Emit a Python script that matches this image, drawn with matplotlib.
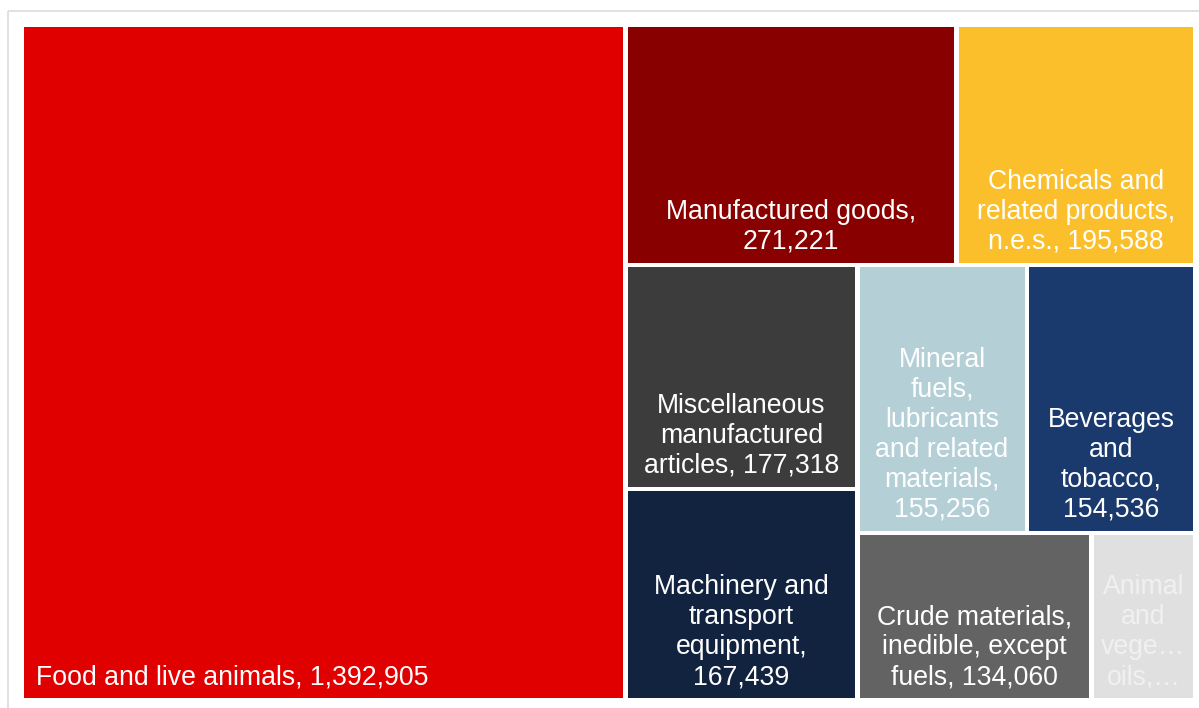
import matplotlib
matplotlib.use("Agg")
import matplotlib.pyplot as plt
from matplotlib.patches import Rectangle

categories = [
    "Food and live animals",
    "Manufactured goods",
    "Chemicals and related products, n.e.s.",
    "Miscellaneous manufactured articles",
    "Machinery and transport equipment",
    "Mineral fuels, lubricants and related materials",
    "Beverages and tobacco",
    "Crude materials, inedible, except fuels",
    "Animal and vegetable oils, fats and waxes",
]
values = [1392905, 271221, 195588, 177318, 167439, 155256, 154536, 134060, 59500]
display_names = [
    "Food and live animals, {v}",
    "Manufactured goods,\n{v}",
    "Chemicals and\nrelated products,\nn.e.s., {v}",
    "Miscellaneous\nmanufactured\narticles, {v}",
    "Machinery and\ntransport\nequipment,\n{v}",
    "Mineral\nfuels,\nlubricants\nand related\nmaterials,\n{v}",
    "Beverages\nand\ntobacco,\n{v}",
    "Crude materials,\ninedible, except\nfuels, {v}",
    "Animal\nand\nvege\u2026\noils,\u2026",
]
colors = ["#e00000", "#880000", "#fbbf2c", "#3c3c3c", "#12233f",
          "#b5cfd6", "#1a3a6e", "#636363", "#e0e0e0"]
text_alpha = [1, 1, 1, 1, 1, 1, 1, 1, 0.55]

W, H = 1199, 708
X0, Y0, X1, Y1 = 22.0, 25.0, 1195.5, 700.5
GAP = 4.5


def worst(row, w):
    s = sum(row)
    return max(max(w * w * r / (s * s), (s * s) / (w * w * r)) for r in row)


def layout_row(row, x, y, dx, dy):
    s = sum(row)
    rects = []
    if dx >= dy:
        cw = s / dy
        cy = y
        for r in row:
            h = r / cw
            rects.append((x, cy, cw, h))
            cy += h
        return rects, (x + cw, y, dx - cw, dy)
    else:
        rh = s / dx
        cx = x
        for r in row:
            w = r / rh
            rects.append((cx, y, w, rh))
            cx += w
        return rects, (x, y + rh, dx, dy - rh)


def squarify(sizes, x, y, dx, dy):
    total = sum(sizes)
    areas = [v * dx * dy / total for v in sizes]
    rects = []
    rem = (x, y, dx, dy)
    i = 0
    while i < len(areas):
        rx, ry, rdx, rdy = rem
        side = min(rdx, rdy)
        row = [areas[i]]
        i += 1
        while i < len(areas) and worst(row + [areas[i]], side) <= worst(row, side):
            row.append(areas[i])
            i += 1
        r, rem = layout_row(row, rx, ry, rdx, rdy)
        rects.extend(r)
    return rects


rects = squarify(values, X0, Y0, X1 - X0, Y1 - Y0)

plt.rcParams['font.family'] = ['Liberation Sans', 'DejaVu Sans']
fig = plt.figure(figsize=(W / 100, H / 100), dpi=100)
ax = fig.add_axes([0, 0, 1, 1])
ax.set_xlim(0, W)
ax.set_ylim(H, 0)
ax.axis("off")

# outer frame
ax.plot([7.5, W], [10.5, 10.5], color="#dcdcdc", lw=1.2, solid_capstyle="butt")
ax.plot([7.5, 7.5], [10.5, H], color="#dcdcdc", lw=1.2, solid_capstyle="butt")

FS = 19.2
LS = 1.2
for i, (rx, ry, rw, rh) in enumerate(rects):
    g = GAP / 2
    ax.add_patch(Rectangle((rx + g, ry + g), rw - GAP, rh - GAP,
                           facecolor=colors[i], edgecolor="none"))
    label = display_names[i].format(v=f"{values[i]:,}")
    bottom = ry + rh - g - 8
    if i == 0:
        ax.text(rx + g + 12, bottom, label, ha="left", va="bottom",
                color="white", fontsize=FS, linespacing=LS)
    else:
        ax.text(rx + rw / 2, bottom, label, ha="center", va="bottom",
                multialignment="center", color="white", alpha=text_alpha[i],
                fontsize=FS, linespacing=LS)

fig.savefig("out.png", dpi=100)
